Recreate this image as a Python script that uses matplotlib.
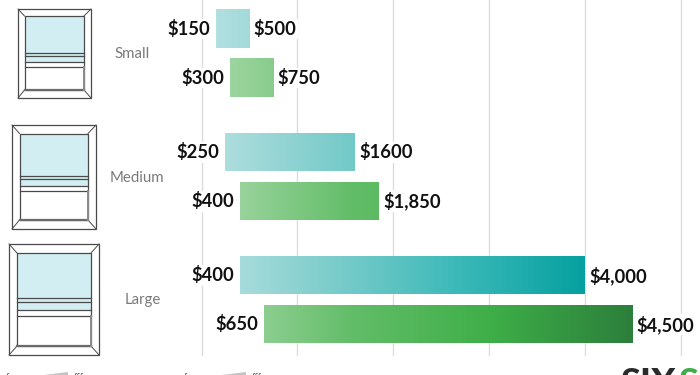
import numpy as np
import matplotlib
matplotlib.use("Agg")
import matplotlib.pyplot as plt
from matplotlib.colors import LinearSegmentedColormap
from matplotlib.patches import Rectangle, Polygon

plt.rcParams['font.family'] = ['Lato', 'Open Sans', 'DejaVu Sans']

sizes = ["Small", "Medium", "Large"]
blue_low = [150, 250, 400]
blue_high = [500, 1600, 4000]
blue_labels = [("$150", "$500"), ("$250", "$1600"), ("$400", "$4,000")]
green_low = [300, 400, 650]
green_high = [750, 1850, 4500]
green_labels = [("$300", "$750"), ("$400", "$1,850"), ("$650", "$4,500")]
grid_ticks = [0, 1000, 2000, 3000, 4000, 5000]

W, H = 700, 375
fig = plt.figure(figsize=(W / 100, H / 100), dpi=100, facecolor="white")
ax = fig.add_axes([0, 0, 1, 1])
PX = 0.0958            # pixels per dollar
X0 = 201.5             # pixel of $0
Y0, DY = 53, 123.25    # group centre and pitch in pixels
ax.set_xlim(-X0 / PX, (W - X0) / PX)
ax.set_ylim((H - Y0) / DY, -Y0 / DY)
ax.axis("off")

for t in grid_ticks:
    ax.plot([t, t], [-Y0 / DY, (355 - Y0) / DY], color="#dcdcdc", lw=1.0, zorder=1)

blue_cmap = LinearSegmentedColormap.from_list("b", ["#b4e0e0", "#7accca", "#3bb8b8", "#06a0a0"])
green_cmap = LinearSegmentedColormap.from_list("g", ["#a6d8a8", "#62bd68", "#3eae48", "#2c7f3c"])
offset = 24.5 / DY
bar_h = 38.5 / DY
grad = np.linspace(0, 1, 512).reshape(1, -1)


def draw_bar(lo, hi, yc, cmap, vmax):
    r = Rectangle((lo, yc - bar_h / 2), hi - lo, bar_h, transform=ax.transData, fc="none", ec="none")
    ax.add_patch(r)
    im = ax.imshow(grad, extent=(100, vmax, yc + bar_h / 2, yc - bar_h / 2), cmap=cmap,
                   aspect="auto", zorder=2)
    im.set_clip_path(r)


label_kw = dict(fontsize=13.2, fontweight="bold", color="#111111", va="center", zorder=4)
for i, size in enumerate(sizes):
    yb, yg = i - offset, i + offset
    draw_bar(blue_low[i], blue_high[i], yb, blue_cmap, 4000)
    draw_bar(green_low[i], green_high[i], yg, green_cmap, 4500)
    for y, lo, hi, lab in [(yb, blue_low[i], blue_high[i], blue_labels[i]),
                           (yg, green_low[i], green_high[i], green_labels[i])]:
        ax.text(lo - 60, y + 0.004, lab[0], ha="right",
                bbox=dict(fc="white", ec="none", pad=1), **label_kw)
        ax.text(hi + 45, y + 0.004, lab[1], ha="left",
                bbox=dict(fc="white", ec="none", pad=1), **label_kw)
ax.set_xlim(-X0 / PX, (W - X0) / PX)
ax.set_ylim((H - Y0) / DY, -Y0 / DY)

# overlay in pixel coordinates for the decorative window icons
ov = fig.add_axes([0, 0, 1, 1], facecolor="none")
ov.set_xlim(0, W)
ov.set_ylim(H, 0)
ov.axis("off")

name_x = [132, 137, 143]
name_y = [54, 178, 300]
for n, x, y in zip(sizes, name_x, name_y):
    ov.text(x, y, n, ha="center", va="center", fontsize=10.8, color="#7a7a7a", fontweight="normal")

edge = "#4a4a4a"
icons = [
    (18, 91, 9, 98, 24.5, 84, 16, 90, (53, 56, 62, 67)),
    (12, 96, 125, 229, 19.5, 88, 133.5, 220, (176, 179, 186, 191)),
    (9, 99, 244, 355, 17, 91, 253, 346, (298, 302, 310, 316)),
]
for ox0, ox1, oy0, oy1, ix0, ix1, iy0, iy1, lines in icons:
    ov.add_patch(Rectangle((ox0, oy0), ox1 - ox0, oy1 - oy0, fc="white", ec=edge, lw=0.9))
    ov.add_patch(Rectangle((ix0, iy0), ix1 - ix0, lines[3] - iy0, fc="#d2eef2", ec="none"))
    ov.add_patch(Rectangle((ix0, lines[2]), ix1 - ix0, lines[3] - lines[2], fc="white", ec="none"))
    ov.add_patch(Rectangle((ix0, iy0), ix1 - ix0, iy1 - iy0, fc="none", ec=edge, lw=0.9))
    for (a, b) in [(ox0, ix0), (ox1, ix1)]:
        ov.plot([a, b], [oy0, iy0], color=edge, lw=0.7)
        ov.plot([a, b], [oy1, iy1], color=edge, lw=0.7)
    for yl in lines:
        ov.plot([ix0, ix1], [yl, yl], color=edge, lw=0.9)
    ov.plot([ix0, ix1], [iy1 - 0.5, iy1 - 0.5], color="#6a6a6a", lw=1.6)
    ov.plot([ix1 - 0.5, ix1 - 0.5], [lines[3], iy1], color="#8a8a8a", lw=1.4)

# cut-off footer fragments at the bottom edge
for x in (6, 184):
    ov.text(x, 377.5, "f", fontsize=7, color="#555555", ha="left", va="center")
    ov.text(x + 68, 377.5, "fff", fontsize=7, color="#555555", ha="left", va="center")
    ov.add_patch(Polygon([(x + 38, H), (x + 62, 372), (x + 62, H)], fc="#c4c4c4", ec="none"))
ov.text(620, 384, "SIX", fontsize=26, fontweight="black", color="#2b2b2b", ha="left", va="center")
ov.text(678, 384, "S", fontsize=26, fontweight="black", color="#3fae49", ha="left", va="center")

fig.savefig("out.png", dpi=100)
